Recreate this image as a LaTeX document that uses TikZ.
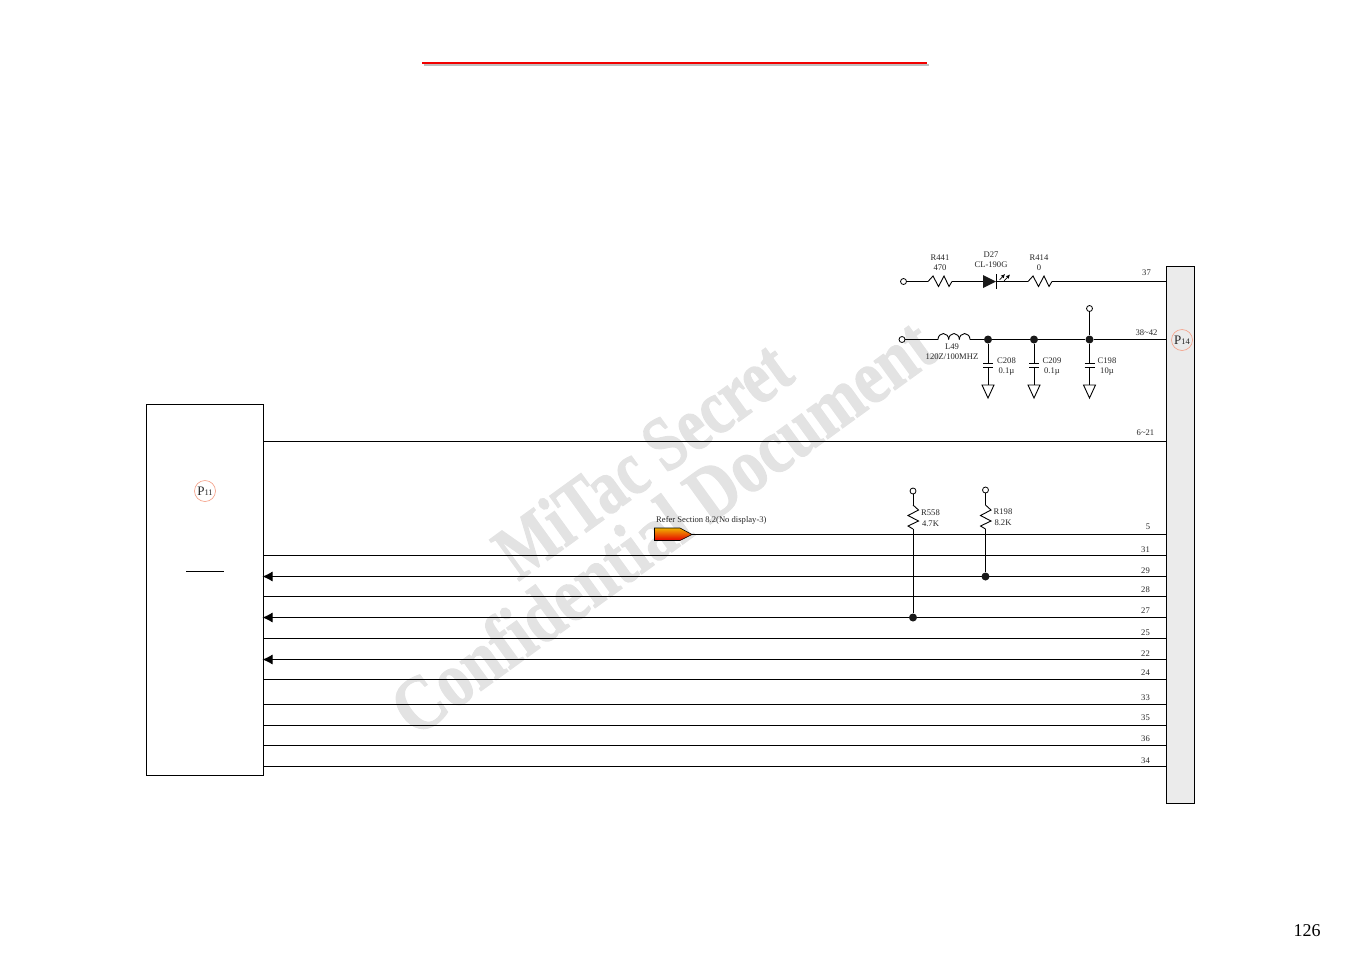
\documentclass[tikz,border=0pt]{standalone}
\usepackage{fontspec}
\setmainfont{Liberation Serif}
\newfontfamily\stampfont[FakeBold=1.6]{Liberation Serif Bold}
\usepackage{xcolor}
\usetikzlibrary{arrows.meta}
\definecolor{panelgray}{HTML}{EBEBEB}
\definecolor{stampgray}{HTML}{E3E3E3}
\definecolor{ringred}{HTML}{F4A58E}
\definecolor{hotorange}{HTML}{F0B000}
\tikzset{
	wire/.style={line width=0.9pt,black},
	term/.style={shape=circle,draw,fill=white,line width=0.8pt,inner sep=0pt,minimum size=6pt},
	dot/.style={shape=circle,fill=black!90,inner sep=0pt,minimum size=8pt},
	lab/.style={inner sep=0pt,text=black!85,font=\fontsize{8.6}{10}\selectfont},
	ring/.style={shape=circle,draw=ringred,line width=0.7pt,inner sep=0pt,minimum size=21pt,text=black!85},
	stamp/.style={inner sep=0pt,transform shape,rotate=36,yscale=1.25,text=stampgray,font=\fontsize{62}{62}\stampfont},
	inarrow/.style={-{Latex[length=10pt,width=10pt]}},
	hres/.pic={\draw[wire] (0,0) -- (5,-5.5) -- (10.5,5) -- (16,-5.5) -- (21,5) -- (24,0);},
	gnd/.pic={\draw[wire] (0,0) -- (6,0) -- (0,13) -- (-6,0) -- cycle;}
}
\begin{document}
\begin{tikzpicture}[x=1pt,y=-1pt]
	\useasboundingbox (0,0) rectangle (1351,954);
	% watermark
	\node (mark1) at (642,459)[stamp,xscale=0.985]{MiTac Secret};
	\node (mark2) at (662,526)[stamp,xscale=1.05]{Confidential Document};
	% heading rule
	\coordinate (ruleA) at (422,63);
	\coordinate (ruleB) at (927,63);
	\draw[line width=2pt,black!25] ([shift={(1.5,1.5)}]ruleA) -- ([shift={(1.5,1.5)}]ruleB);
	\draw[line width=2pt,red!95!black] (ruleA) -- (ruleB);
	% the two blocks
	\draw[wire,fill=panelgray] (1166.5,266.5) rectangle (1194.5,803.5);
	\draw[wire] (146.5,404.5) rectangle (263.5,775.5);
	\node (p11) at (205,491)[ring]{\fontsize{13}{13}\selectfont P\fontsize{8.5}{8.5}\selectfont 11};
	\node (p14) at (1182,340)[ring]{\fontsize{13}{13}\selectfont P\fontsize{8.5}{8.5}\selectfont 14};
	\coordinate (barA) at (186,571);
	\coordinate (barB) at (224,571);
	\draw[wire] (barA) -- (barB);
	% bus
	\foreach \n/\y/\ly/\t in {a/441.5/432.5/6\textasciitilde 21,c/555.5/549.5/31,e/596.5/589.5/28,g/638.5/632.5/25,i/679.5/672.5/24,j/704.5/697.5/33,k/725.5/717.5/35,l/745.5/738.5/36,m/766.5/760.5/34}{
		\coordinate (l\n) at (264,\y);
		\coordinate (r\n) at (1166,\y);
		\draw[wire] (r\n) -- (l\n);
		\node (pin\n) at (1145.5,\ly)[lab]{\t};
	}
	\foreach \n/\y/\ly/\t in {d/576.5/570.5/29,f/617.5/610.5/27,h/659.5/653.5/22}{
		\coordinate (l\n) at (262.5,\y);
		\coordinate (r\n) at (1166,\y);
		\draw[wire,inarrow] (r\n) -- (l\n);
		\node (pin\n) at (1145.5,\ly)[lab]{\t};
	}
	% line 5 with off-page marker
	\shade[draw=black,line width=0.6pt,top color=hotorange,middle color=orange!70!red,bottom color=red!90!black] (654.5,528) -- (680,528) -- (692,534.5) -- (680,540.5) -- (654.5,540.5) -- cycle;
	\coordinate (off) at (692,534.5);
	\coordinate (rb) at (1166,534.5);
	\draw[wire] (off) -- (rb);
	\node (pinb) at (1148,526.5)[lab]{5};
	\node (offtxt) at (656,520)[lab,anchor=west]{Refer Section 8.2(No display-3)};
	% pull ups
	\foreach \n/\x/\yt/\yd/\ya/\tx/\r/\v in {A/913/491/617.5/0/930.5/R558/4.7K,B/985.5/490/576.5/-1/1003/R198/8.2K}{
		\node (up\n) at (\x,\yt)[term]{};
		\node (tap\n) at (\x,\yd)[dot]{};
		\coordinate (zt\n) at (\x,505);
		\coordinate (zb\n) at (\x,529);
		\draw[wire] (up\n) -- (zt\n);
		\pic[rotate=-90] at (zt\n) {hres};
		\draw[wire] (zb\n) -- (tap\n);
		\node (nm\n) at (\tx,512.5+\ya)[lab]{\r};
		\node (vl\n) at (\tx,523.5+\ya)[lab]{\v};
	}
	% LED line
	\node (ledin) at (903.5,281.5)[term]{};
	\coordinate (z1a) at (928,281.5);
	\coordinate (z1b) at (952,281.5);
	\coordinate (da) at (983,281.5);
	\coordinate (db) at (996,281.5);
	\coordinate (z2a) at (1028,281.5);
	\coordinate (z2b) at (1052,281.5);
	\coordinate (r37) at (1166,281.5);
	\draw[wire] (ledin) -- (z1a);
	\pic at (z1a) {hres};
	\draw[wire] (z1b) -- (da);
	\fill[black!90] (983,275) -- (996,281.5) -- (983,288) -- cycle;
	\draw[wire] (996.5,274) -- (996.5,289);
	\draw[wire] (db) -- (z2a);
	\draw[line width=0.7pt,-{Latex[length=4pt,width=4pt]}] (999.5,280) -- (1005,274);
	\draw[line width=0.7pt,-{Latex[length=4pt,width=4pt]}] (1004,281) -- (1010,274.5);
	\pic at (z2a) {hres};
	\draw[wire] (z2b) -- (r37);
	\node (nmR1) at (940,258)[lab]{R441};
	\node (vlR1) at (940,268)[lab]{470};
	\node (nmD) at (991,254.5)[lab]{D27};
	\node (vlD) at (991,264.5)[lab]{CL-190G};
	\node (nmR2) at (1039,258)[lab]{R414};
	\node (vlR2) at (1039,268)[lab]{0};
	\node (pin37) at (1146.5,273)[lab]{37};
	% power line
	\node (pwrin) at (902,339.5)[term]{};
	\coordinate (la) at (938,339.5);
	\coordinate (lb) at (970,339.5);
	\node (c1) at (988,339.5)[dot]{};
	\node (c2) at (1034,339.5)[dot]{};
	\node (c3) at (1089.5,339.5)[dot]{};
	\node (pwrup) at (1089.5,308.5)[term]{};
	\coordinate (r38) at (1166,339.5);
	\draw[wire] (pwrin) -- (la);
	\foreach \x in {938,948.67,959.33}{
		\draw[wire] (\x,339.5) arc (180:360:5.33 and 6);
	}
	\draw[wire] (lb) -- (c1) -- (c2) -- (c3) -- (r38);
	\draw[wire] (pwrup) -- (c3);
	\node (nmL) at (952,346.5)[lab]{L49};
	\node (vlL) at (952,356.5)[lab]{120Z/100MHZ};
	\node (pin38) at (1146.5,332.5)[lab]{38\textasciitilde 42};
	\foreach \n/\x/\tx/\r/\v in {1/988/1006.5/C208/0.1µ,2/1034/1052/C209/0.1µ,3/1089.5/1107/C198/10µ}{
		\coordinate (pt\n) at (\x,363);
		\coordinate (pb\n) at (\x,367);
		\coordinate (gd\n) at (\x,385);
		\draw[wire] (c\n) -- (pt\n);
		\draw[wire] ([xshift=-5pt]pt\n) -- ([xshift=5pt]pt\n);
		\draw[wire] ([xshift=-5pt]pb\n) -- ([xshift=5pt]pb\n);
		\draw[wire] (pb\n) -- (gd\n);
		\pic at (gd\n) {gnd};
		\node (nmC\n) at (\tx,360.5)[lab]{\r};
		\node (vlC\n) at (\tx,371.5)[lab]{\v};
	}
	% page number
	\node (page) at (1307,930.5)[inner sep=0pt,font=\fontsize{18}{18}\selectfont]{126};
\end{tikzpicture}
\end{document}
